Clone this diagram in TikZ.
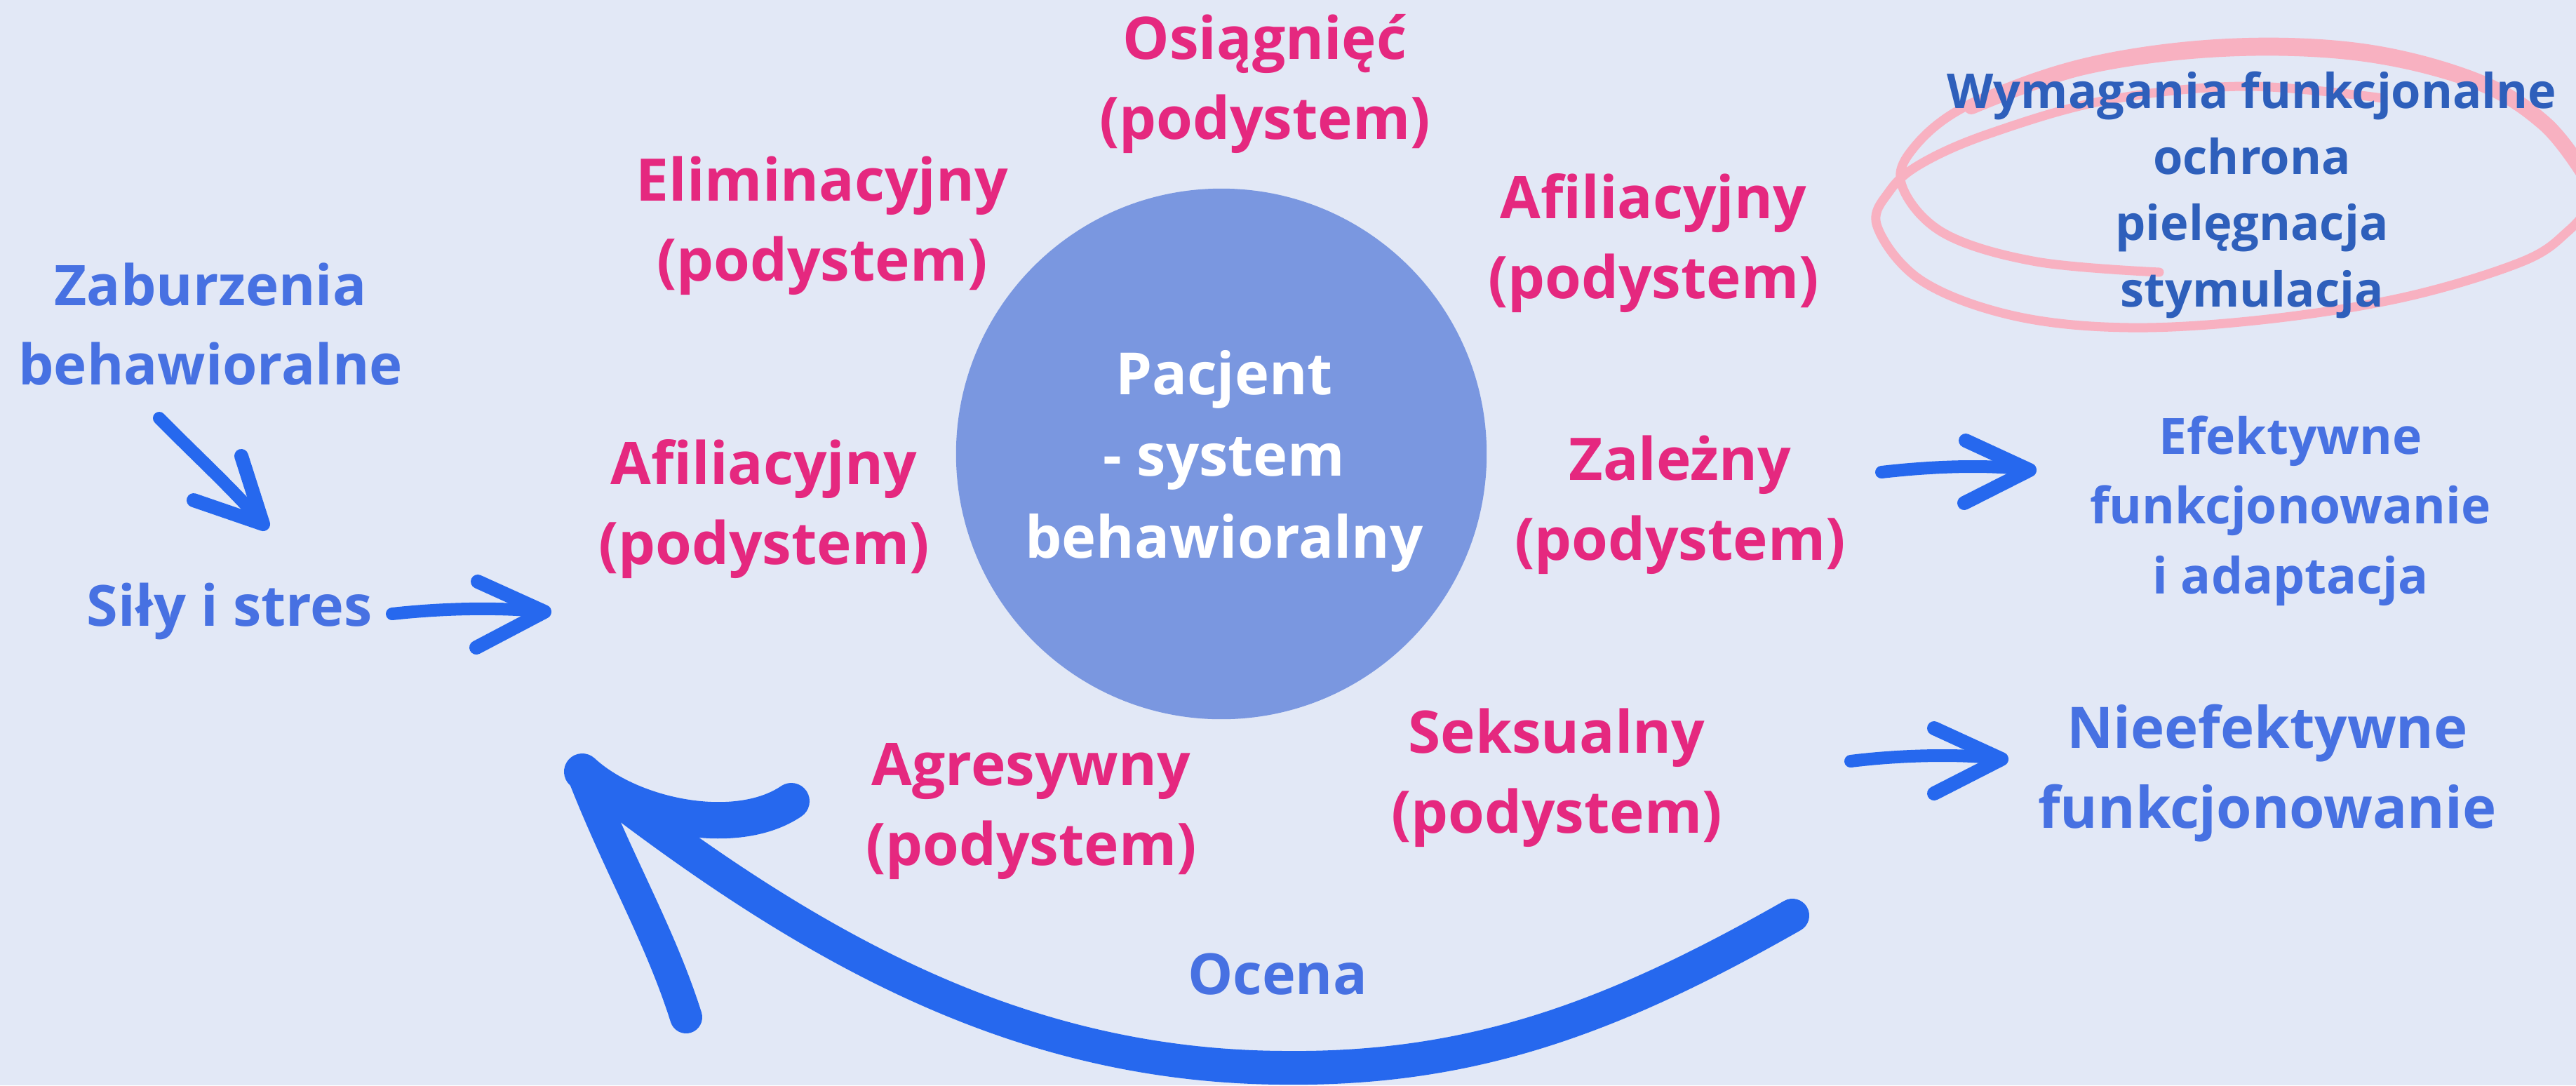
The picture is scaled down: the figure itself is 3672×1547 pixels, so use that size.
\documentclass[tikz,border=0pt]{standalone}
\usepackage{fontspec}
\setmainfont{Open Sans}
\definecolor{bgc}{HTML}{E2E8F6}
\definecolor{pinkc}{HTML}{E5287F}
\definecolor{bluec}{HTML}{4771E2}
\definecolor{darkbluec}{HTML}{2E5FBB}
\definecolor{arrowc}{HTML}{2668EE}
\definecolor{circc}{HTML}{7A97E0}
\definecolor{loopc}{HTML}{F8B1C1}
\tikzset{
  lbl/.style={inner sep=0pt, anchor=base, align=center},
  pinklbl/.style={lbl, text=pinkc, font=\fontsize{23.8pt}{32.4pt}\selectfont\bfseries},
  bluelbl/.style={lbl, text=bluec},
  handarrow/.style={draw=arrowc, line width=0.18cm, line cap=round, line join=round},
  barbs/.style={draw=arrowc, line width=0.2cm, line cap=round, line join=round},
  bigshaft/.style={draw=arrowc, line width=0.48cm, line cap=round, line join=round},
  loopline/.style={draw=loopc, line cap=round, line join=round},
}
\begin{document}
\begin{tikzpicture}[x=0.01cm,y=-0.01cm]
\fill[bgc] (0,0) rectangle (3672,1547);
\useasboundingbox (0,0) rectangle (3672,1547);

% pink hand-drawn loop around requirements (one spiral stroke)
\draw[loopline, line width=0.13cm] plot[smooth, tension=0.6] coordinates {
  (3078,388) (2903,373) (2772,333) (2712,267) (2726,213) (2805,150) (2969,90)
  (3167,62) (3364,68) (3529,110) (3627,170) (3685,245) (3690,290) (3660,330)
  (3595,373) (3430,423) (3232,455) (3035,467) (2870,450) (2739,400) (2676,323)
  (2693,273) (2739,233) (2837,190) (3002,143) (3200,123) (3397,140)};
\draw[loopline, line width=0.22cm] plot[smooth, tension=0.6] coordinates {
  (2810,152) (2969,96) (3167,70) (3364,76) (3529,116) (3627,176) (3685,250)};

% central circle
\node[circle, fill=circc, minimum size=7.56cm, inner sep=0pt] (pac) at (1741,647) {};
\node[lbl, text=white, font=\fontsize{23.6pt}{33pt}\selectfont\bfseries] (pactxt) at (1745,795) {Pacjent\\- system\\behawioralny};

% subsystems (anchor = baseline of last line)
\node[pinklbl] (osi) at (1803,198) {Osiągnięć\\(podystem)};
\node[pinklbl] (eli) at (1172,400) {Eliminacyjny\\(podystem)};
\node[pinklbl] (afr) at (2357,425) {Afiliacyjny\\(podystem)};
\node[pinklbl] (afl) at (1089,804) {Afiliacyjny\\(podystem)};
\node[pinklbl] (zal) at (2395,798) {Zależny\\(podystem)};
\node[pinklbl] (agr) at (1470,1233) {Agresywny\\(podystem)};
\node[pinklbl] (sek) at (2219,1187) {Seksualny\\(podystem)};

% blue labels
\node[bluelbl, font=\fontsize{22.7pt}{31.9pt}\selectfont\bfseries] (zab) at (300,548) {Zaburzenia\\behawioralne};
\node[bluelbl, font=\fontsize{23pt}{32pt}\selectfont\bfseries] (sil) at (327,892) {Siły i stres};
\node[bluelbl, font=\fontsize{20.3pt}{28.2pt}\selectfont\bfseries] (efe) at (3265,846) {Efektywne\\funkcjonowanie\\i adaptacja};
\node[bluelbl, font=\fontsize{23.2pt}{32.4pt}\selectfont\bfseries] (nie) at (3232,1180) {Nieefektywne\\funkcjonowanie};
\node[bluelbl, font=\fontsize{23pt}{32pt}\selectfont\bfseries] (oce) at (1821,1417) {Ocena};
\node[lbl, text=darkbluec, font=\fontsize{19.5pt}{26.8pt}\selectfont\bfseries] (wym) at (3210,437) {Wymagania funkcjonalne\\ochrona\\pielęgnacja\\stymulacja};

% small hand-drawn arrows
\coordinate (a1s) at (227,596); \coordinate (a1t) at (375,747);
\coordinate (a1u) at (344,650); \coordinate (a1d) at (276,713);
\draw[handarrow] (a1s) .. controls (280,650) and (330,695) .. (a1t);
\draw[barbs] (a1u) -- (a1t) -- (a1d);

\coordinate (a2s) at (559,875); \coordinate (a2t) at (776,872);
\coordinate (a2u) at (681,829); \coordinate (a2d) at (679,923);
\draw[handarrow] (a2s) .. controls (640,866) and (720,866) .. (a2t);
\draw[barbs] (a2u) -- (a2t) -- (a2d);

\coordinate (a3s) at (2682,673); \coordinate (a3t) at (2893,670);
\coordinate (a3u) at (2802,628); \coordinate (a3d) at (2800,717);
\draw[handarrow] (a3s) .. controls (2760,664) and (2840,662) .. (a3t);
\draw[barbs] (a3u) -- (a3t) -- (a3d);

\coordinate (a4s) at (2638,1085); \coordinate (a4t) at (2853,1082);
\coordinate (a4u) at (2757,1038); \coordinate (a4d) at (2757,1131);
\draw[handarrow] (a4s) .. controls (2710,1076) and (2800,1074) .. (a4t);
\draw[barbs] (a4u) -- (a4t) -- (a4d);

% big evaluation arrow
\coordinate (bR) at (2555,1305); \coordinate (bTip) at (830,1100);
\coordinate (bU) at (1128,1142); \coordinate (bD) at (978,1450);
\draw[bigshaft] (bR) .. controls (2300,1450) and (2100,1525) .. (1830,1522) .. controls (1450,1520) and (1150,1350) .. (bTip);
\draw[bigshaft, line width=0.52cm] (bTip) .. controls (900,1165) and (1050,1195) .. (bU);
\draw[bigshaft, line width=0.46cm] (bTip) .. controls (880,1230) and (940,1330) .. (bD);
\end{tikzpicture}
\end{document}
